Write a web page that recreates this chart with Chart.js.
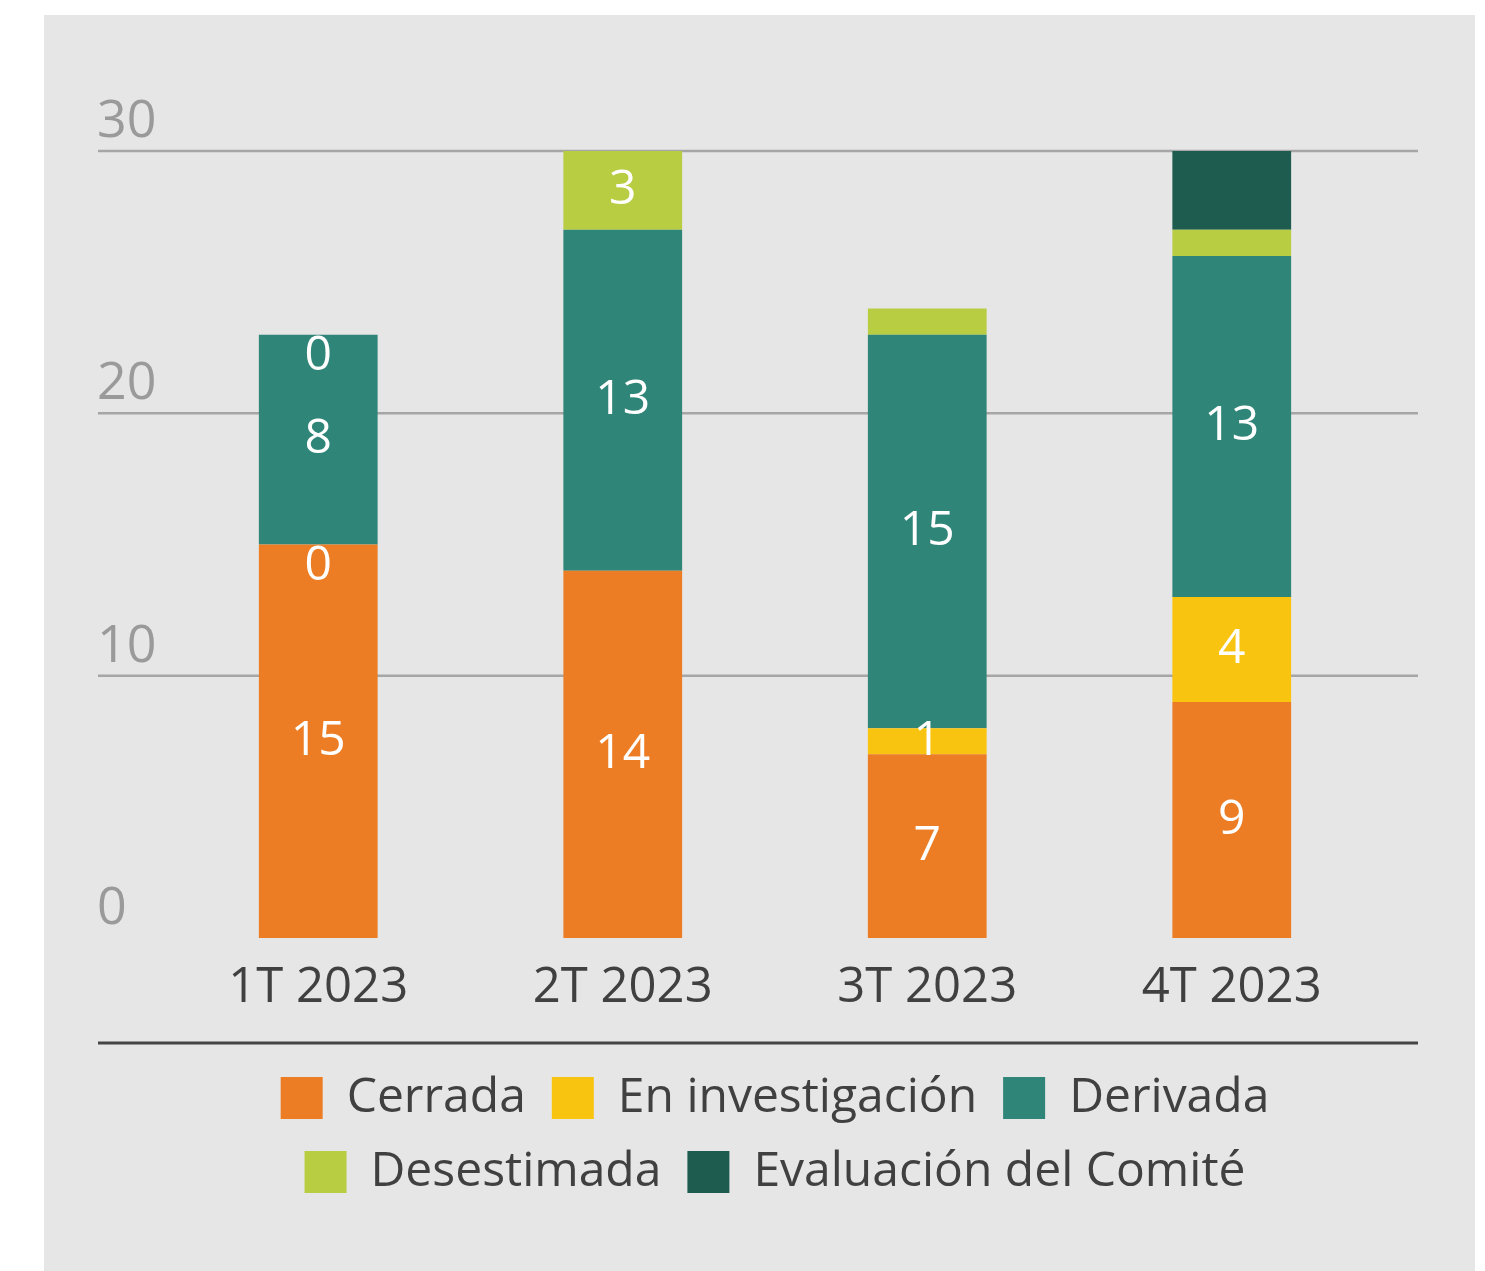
<!DOCTYPE html>
<html lang="es">
<head>
<meta charset="utf-8">
<title>Denuncias por trimestre 2023</title>
<script src="https://cdn.jsdelivr.net/npm/chart.js@4.4.0/dist/chart.umd.min.js"></script>
<style>
    html, body { margin: 0; padding: 0; background: #ffffff; }
    #fondo { position: absolute; left: 44px; top: 15px; width: 1431px; height: 1256px; background: #e6e6e6; }
    #lienzo { position: absolute; left: 0; top: 0; width: 1485px; height: 1271px; }
</style>
</head>
<body>
<div id="fondo"></div>
<div id="lienzo"><canvas id="grafico"></canvas></div>
<script>
// Datos
const trimestres = ['1T 2023', '2T 2023', '3T 2023', '4T 2023'];
const cerrada = [15, 14, 7, 9];
const enInvestigacion = [0, 0, 1, 4];
const derivada = [8, 13, 15, 13];
const desestimada = [0, 3, 1, 1];
const evaluacionComite = [0, 0, 0, 3];
const ticksEjeY = [0, 10, 20, 30];

// Etiquetas de valor que aparecen en el original (las demás no se ven)
const verCerrada = [true, true, true, true];
const verEnInvestigacion = [true, false, true, true];
const verDerivada = [true, true, true, true];
const verDesestimada = [true, true, false, false];
const verEvaluacion = [false, false, false, false];

const fuente = "'Open Sans', 'Noto Sans', sans-serif";

// Líneas de la cuadrícula, números del eje Y y línea separadora
const fondoPlugin = {
    id: 'fondoPlugin',
    beforeDatasetsDraw(chart) {
        const ctx = chart.ctx;
        const y = chart.scales.y;
        ctx.save();
        ctx.strokeStyle = '#a6a6a6';
        ctx.lineWidth = 2.5;
        ctx.fillStyle = '#9a9a9a';
        ctx.font = '52px ' + fuente;
        ctx.textAlign = 'left';
        ctx.textBaseline = 'alphabetic';
        ticksEjeY.forEach(v => {
            const py = y.getPixelForValue(v);
            if (v > 0) {
                ctx.beginPath();
                ctx.moveTo(98, py);
                ctx.lineTo(1418, py);
                ctx.stroke();
            }
            ctx.fillText(String(v), 97, py - 14);
        });
        ctx.restore();
    },
    afterDraw(chart) {
        const ctx = chart.ctx;
        ctx.save();
        ctx.strokeStyle = '#454545';
        ctx.lineWidth = 3;
        ctx.beginPath();
        ctx.moveTo(98, 1043);
        ctx.lineTo(1418, 1043);
        ctx.stroke();
        ctx.restore();
    }
};

// Números blancos dentro de las barras
const etiquetasPlugin = {
    id: 'etiquetasPlugin',
    afterDatasetsDraw(chart) {
        const ctx = chart.ctx;
        ctx.save();
        ctx.fillStyle = '#ffffff';
        ctx.font = '48px ' + fuente;
        ctx.textAlign = 'center';
        ctx.textBaseline = 'middle';
        chart.data.datasets.forEach((ds, i) => {
            const meta = chart.getDatasetMeta(i);
            meta.data.forEach((bar, j) => {
                if (!ds.verEtiqueta[j]) return;
                const valor = ds.data[j];
                const p = bar.getProps(['x', 'y', 'base'], true);
                const py = valor === 0 ? p.y + 22 : (p.y + p.base) / 2;
                ctx.fillText(String(valor), p.x, py);
            });
        });
        ctx.restore();
    }
};

const ctx = document.getElementById('grafico').getContext('2d');
new Chart(ctx, {
    type: 'bar',
    data: {
        labels: trimestres,
        datasets: [
            { label: 'Cerrada', data: cerrada, backgroundColor: '#ec7d24', verEtiqueta: verCerrada },
            { label: 'En investigación', data: enInvestigacion, backgroundColor: '#f8c40f', verEtiqueta: verEnInvestigacion },
            { label: 'Derivada', data: derivada, backgroundColor: '#2f8577', verEtiqueta: verDerivada },
            { label: 'Desestimada', data: desestimada, backgroundColor: '#b8cd42', verEtiqueta: verDesestimada },
            { label: 'Evaluación del Comité', data: evaluacionComite, backgroundColor: '#1d5c4f', verEtiqueta: verEvaluacion }
        ]
    },
    options: {
        responsive: true,
        maintainAspectRatio: false,
        animation: false,
        layout: {
            padding: { top: 151, left: 166, right: 101, bottom: 65 }
        },
        datasets: {
            bar: {
                barPercentage: 0.39,
                categoryPercentage: 1,
                borderWidth: 0
            }
        },
        scales: {
            x: {
                stacked: true,
                grid: { display: false, drawTicks: false },
                border: { display: false },
                ticks: {
                    color: '#404040',
                    padding: 21,
                    font: { size: 49, family: fuente }
                },
                afterFit(scale) {
                    scale.height = 110;
                }
            },
            y: {
                stacked: true,
                display: false,
                min: 0,
                max: 30,
                ticks: { stepSize: 10 }
            }
        },
        plugins: {
            legend: {
                position: 'bottom',
                labels: {
                    boxWidth: 42,
                    boxHeight: 42,
                    padding: 26,
                    color: '#404040',
                    font: { size: 48, family: fuente }
                }
            },
            tooltip: { enabled: false }
        }
    },
    plugins: [fondoPlugin, etiquetasPlugin]
});
</script>
</body>
</html>
